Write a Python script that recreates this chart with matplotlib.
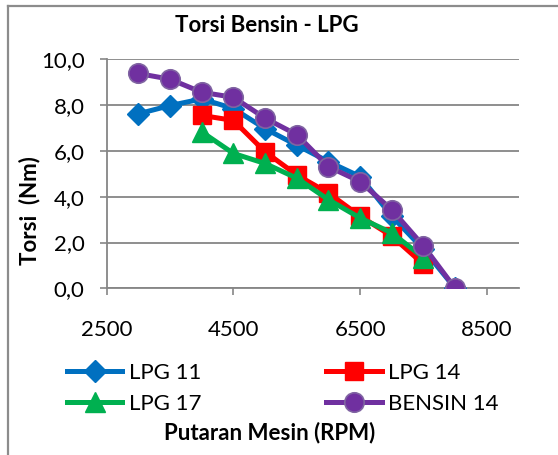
import matplotlib.pyplot as plt
from matplotlib.lines import Line2D

plt.rcParams['font.family'] = ['Lato', 'DejaVu Sans']

# data
rpm_lpg11 = [3000, 3500, 4000, 4500, 5000, 5500, 6000, 6500, 7000, 7500, 8000]
torsi_lpg11 = [7.62, 7.98, 8.27, 7.85, 6.97, 6.25, 5.53, 4.88, 3.15, 1.70, 0.0]

rpm_lpg14 = [4000, 4500, 5000, 5500, 6000, 6500, 7000, 7500]
torsi_lpg14 = [7.55, 7.33, 5.96, 4.95, 4.16, 3.15, 2.28, 1.05]

rpm_lpg17 = [4000, 4500, 5000, 5500, 6000, 6500, 7000, 7500]
torsi_lpg17 = [6.83, 5.89, 5.45, 4.81, 3.87, 3.07, 2.42, 1.34]

rpm_bensin14 = [3000, 3500, 4000, 4500, 5000, 5500, 6000, 6500, 7000, 7500, 8000]
torsi_bensin14 = [9.38, 9.13, 8.56, 8.34, 7.43, 6.71, 5.31, 4.66, 3.43, 1.85, 0.0]

x_ticks = [2500, 4500, 6500, 8500]
y_ticks = [0, 2, 4, 6, 8, 10]
y_ticklabels = ['0,0', '2,0', '4,0', '6,0', '8,0', '10,0']

W, H = 558, 455
fs = 16
fig = plt.figure(figsize=(W / 100, H / 100), dpi=100)
ax = fig.add_axes([106.7 / W, 1 - 288.3 / H, 411.8 / W, 229.0 / H])

lw = 3.6
ax.plot(rpm_lpg11, torsi_lpg11, color='#0070C0', lw=lw, marker='D', ms=11,
        mec='#0070C0', label='LPG 11', zorder=3)
ax.plot(rpm_lpg14, torsi_lpg14, color='#FF0000', lw=lw, marker='s', ms=13,
        mec='#FF0000', label='LPG 14', zorder=4)
ax.plot(rpm_lpg17, torsi_lpg17, color='#00B050', lw=lw, marker='^', ms=14,
        mec='#00B050', label='LPG 17', zorder=5)
ax.plot(rpm_bensin14, torsi_bensin14, color='#7030A0', lw=lw, marker='o', ms=14,
        mec='#8064A2', mew=1.2, label='BENSIN 14', zorder=6)

ax.set_xlim(2500, 9000)
ax.set_ylim(0, 10)
ax.set_xticks(x_ticks)
ax.set_yticks(y_ticks)
ax.set_yticklabels(y_ticklabels)
ax.tick_params(labelsize=fs, color='#868686', length=5, width=1.2)
ax.tick_params(axis='y', pad=11)
ax.tick_params(axis='x', pad=18)

ax.grid(axis='y', color='#868686', lw=1.3)
ax.set_axisbelow(True)
for s in ['top', 'right']:
    ax.spines[s].set_visible(False)
for s in ['left', 'bottom']:
    ax.spines[s].set_color('#868686')
    ax.spines[s].set_linewidth(1.3)

fig.text(267 / W, 1 - 26 / H, 'Torsi Bensin - LPG', ha='center', va='center',
         fontsize=fs, fontweight='bold')
fig.text(30 / W, 1 - 211 / H, 'Torsi  (Nm)', ha='center', va='center',
         rotation=90, fontsize=fs, fontweight='bold')
fig.text(270 / W, 1 - 433 / H, 'Putaran Mesin (RPM)', ha='center', va='center',
         fontsize=fs, fontweight='bold')

handles, labels = ax.get_legend_handles_labels()
order = [0, 2, 1, 3]
fig.legend([handles[i] for i in order], [labels[i] for i in order],
           ncol=2, loc='upper left', bbox_to_anchor=(58 / W, 1 - 354 / H),
           frameon=False, fontsize=fs, handlelength=2.5, handletextpad=0.3,
           columnspacing=5.6, labelspacing=0.5, borderaxespad=0)

# outer chart border
fig.add_artist(Line2D([8 / W, 8 / W], [0, 1 - 6 / H], color='#8c8c8c', lw=1.6))
fig.add_artist(Line2D([8 / W, 1], [1 - 6 / H, 1 - 6 / H], color='#8c8c8c', lw=1.6))

fig.savefig('out.png', dpi=100)
